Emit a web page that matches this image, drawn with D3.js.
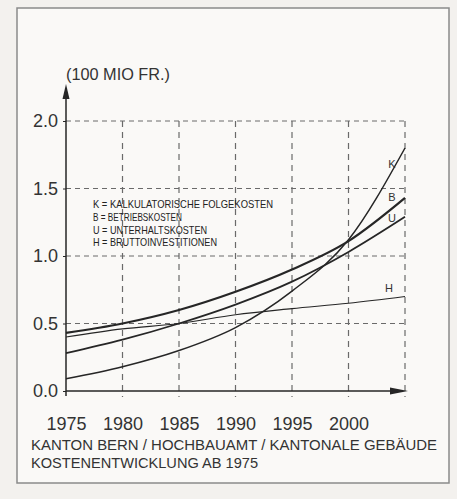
<!DOCTYPE html>
<html>
<head>
<meta charset="utf-8">
<script src="https://cdn.jsdelivr.net/npm/d3@7"></script>
<style>
  body { margin: 0; background: #f3f1ee; }
  svg { display: block; font-family: "Liberation Sans Narrow", "Liberation Sans", sans-serif; }
</style>
</head>
<body>
<div id="chart"></div>
<script>
// values (100 Mio Fr.)
const years = [1975, 1980, 1985, 1990, 1995, 2000, 2005];
const kValues = [0.09, 0.18, 0.30, 0.47, 0.74, 1.12, 1.80];
const bValues = [0.43, 0.50, 0.60, 0.735, 0.90, 1.11, 1.43];
const uValues = [0.28, 0.38, 0.50, 0.64, 0.81, 1.03, 1.29];
const hValues = [0.40, 0.46, 0.50, 0.565, 0.61, 0.65, 0.70];

const xTickLabels = [1975, 1980, 1985, 1990, 1995, 2000];
const xGridYears = [1980, 1985, 1990, 1995, 2000, 2005];
const yTicks = [0.0, 0.5, 1.0, 1.5, 2.0];
const yGrid = [0.5, 1.0, 1.5, 2.0];

const legendLines = [
    "K = KALKULATORISCHE FOLGEKOSTEN",
    "B = BETRIEBSKOSTEN",
    "U = UNTERHALTSKOSTEN",
    "H = BRUTTOINVESTITIONEN"
];

const series = [
    {key: "K", values: kValues, width: 1.5},
    {key: "B", values: bValues, width: 2.2},
    {key: "U", values: uValues, width: 1.8},
    {key: "H", values: hValues, width: 1.2}
];

const W = 457, H = 499;
const svg = d3.select("#chart").append("svg")
    .attr("width", W)
    .attr("height", H);

// outer frame
svg.append("rect")
    .attr("x", 17).attr("y", 8)
    .attr("width", 432).attr("height", 475)
    .attr("fill", "#faf9f7")
    .attr("stroke", "#8a8a8a")
    .attr("stroke-width", 1.5);

const x = d3.scaleLinear().domain([1975, 2005]).range([66, 405]);
const y = d3.scaleLinear().domain([0, 2]).range([391, 121]);

const ink = "#262626";

// --- dashed grid ---
svg.append("g")
    .selectAll("line.hg")
    .data(yGrid)
    .join("line")
    .attr("x1", x(1975)).attr("x2", x(2005))
    .attr("y1", d => y(d)).attr("y2", d => y(d))
    .attr("stroke", "#6a6a6a")
    .attr("stroke-width", 1)
    .attr("stroke-dasharray", "5,4");

svg.append("g")
    .selectAll("line.vg")
    .data(xGridYears)
    .join("line")
    .attr("x1", d => x(d)).attr("x2", d => x(d))
    .attr("y1", y(2)).attr("y2", y(0) + 6)
    .attr("stroke", "#6a6a6a")
    .attr("stroke-width", 1.2)
    .attr("stroke-dasharray", "6,5");

// --- axes (labels from d3 axis generators) ---
const yAxis = svg.append("g")
    .attr("transform", `translate(${x(1975)},0)`)
    .call(d3.axisLeft(y).tickValues(yTicks).tickFormat(d3.format(".1f")).tickSize(3).tickPadding(5));
yAxis.select(".domain").remove();
yAxis.selectAll("line").attr("stroke", ink);
yAxis.selectAll("text")
    .attr("fill", "#333")
    .style("font-size", "18px");

const xAxis = svg.append("g")
    .attr("transform", `translate(0,${y(0)})`)
    .call(d3.axisBottom(x).tickValues(xTickLabels).tickFormat(d3.format("d")).tickSize(0).tickPadding(26));
xAxis.select(".domain").remove();
xAxis.selectAll("text")
    .attr("fill", "#333")
    .style("font-size", "18px");

// axis lines with arrows
svg.append("line")
    .attr("x1", x(1975)).attr("x2", x(1975))
    .attr("y1", y(0) + 5).attr("y2", 96)
    .attr("stroke", ink).attr("stroke-width", 1.5);
svg.append("path")
    .attr("d", `M${x(1975)},84 L${x(1975) - 3.5},99 L${x(1975) + 3.5},99 Z`)
    .attr("fill", ink);

svg.append("line")
    .attr("x1", x(1975)).attr("x2", 392)
    .attr("y1", y(0)).attr("y2", y(0))
    .attr("stroke", ink).attr("stroke-width", 1.5);
svg.append("path")
    .attr("d", `M408,${y(0)} L390,${y(0) - 3.5} L390,${y(0) + 3.5} Z`)
    .attr("fill", ink);

// --- curves ---
const line = d3.line()
    .x((d, i) => x(years[i]))
    .y(d => y(d))
    .curve(d3.curveMonotoneX);

svg.append("g")
    .selectAll("path")
    .data(series)
    .join("path")
    .attr("d", d => line(d.values))
    .attr("fill", "none")
    .attr("stroke", ink)
    .attr("stroke-width", d => d.width);

// curve end labels
const endLabels = [
    {key: "K", x: 392, y: 168},
    {key: "B", x: 392, y: 201},
    {key: "U", x: 392, y: 222},
    {key: "H", x: 389, y: 292}
];
svg.append("g")
    .selectAll("text")
    .data(endLabels)
    .join("text")
    .attr("x", d => d.x).attr("y", d => d.y)
    .attr("text-anchor", "middle")
    .attr("fill", "#333")
    .style("font-size", "11px")
    .text(d => d.key);

// legend
const legendWidths = [180, 89, 114, 124];
svg.append("g")
    .selectAll("text")
    .data(legendLines)
    .join("text")
    .attr("x", 93)
    .attr("y", (d, i) => 208 + i * 12.8)
    .attr("fill", "#222")
    .attr("textLength", (d, i) => legendWidths[i])
    .attr("lengthAdjust", "spacingAndGlyphs")
    .style("font-size", "10.5px")
    .text(d => d);

// unit label
svg.append("text")
    .attr("x", 66).attr("y", 80)
    .attr("fill", "#333")
    .attr("textLength", 104)
    .attr("lengthAdjust", "spacingAndGlyphs")
    .style("font-size", "16px")
    .text("(100 MIO FR.)");

// caption
svg.append("text")
    .attr("x", 31).attr("y", 450)
    .attr("fill", "#333")
    .attr("textLength", 406)
    .attr("lengthAdjust", "spacingAndGlyphs")
    .style("font-size", "15px")
    .text("KANTON BERN / HOCHBAUAMT / KANTONALE GEBÄUDE");
svg.append("text")
    .attr("x", 31).attr("y", 468)
    .attr("fill", "#333")
    .attr("textLength", 227)
    .attr("lengthAdjust", "spacingAndGlyphs")
    .style("font-size", "15px")
    .text("KOSTENENTWICKLUNG AB 1975");
</script>
</body>
</html>
